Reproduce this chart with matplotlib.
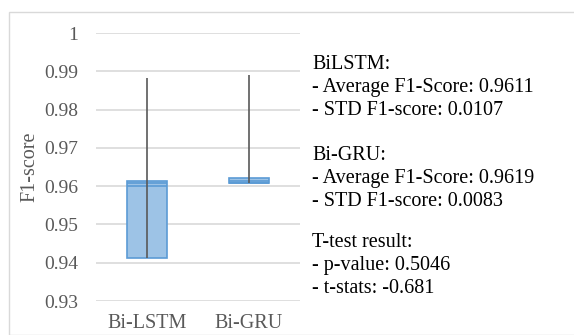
import matplotlib.pyplot as plt
from matplotlib.patches import Rectangle

models = ["Bi-LSTM", "Bi-GRU"]
f1_min = [0.9413, 0.9607]
f1_q1 = [0.9413, 0.9607]
f1_q3 = [0.9613, 0.9621]
f1_max = [0.9883, 0.9890]
f1_median = [0.9601, 0.9607]
f1_mean = [0.9608, 0.9614]
yticks = [0.93, 0.94, 0.95, 0.96, 0.97, 0.98, 0.99, 1]
ytick_labels = ["0.93", "0.94", "0.95", "0.96", "0.97", "0.98", "0.99", "1"]

stats_text = [
    "BiLSTM:\n- Average F1-Score: 0.9611\n- STD F1-score: 0.0107",
    "Bi-GRU:\n- Average F1-Score: 0.9619\n- STD F1-score: 0.0083",
    "T-test result:\n- p-value: 0.5046\n- t-stats: -0.681",
]

plt.rcParams['font.family'] = ['Liberation Serif', 'DejaVu Serif']

W, H = 574, 335
fig = plt.figure(figsize=(W / 100, H / 100), dpi=100)

# outer chart frame
fig.patches.append(Rectangle((9 / W, 0), 1, 1 - 12 / H, transform=fig.transFigure,
                             fill=False, edgecolor='#d9d9d9', linewidth=1))

ax = fig.add_axes([96 / W, 1 - 301 / H, 204 / W, 268 / H])
x = list(range(len(models)))
box_w = 0.4

heights = [q3 - q1 for q1, q3 in zip(f1_q1, f1_q3)]
ax.bar(x, heights, bottom=f1_q1, width=box_w, color='#9dc3e6',
       edgecolor='#5b9bd5', linewidth=1.2, zorder=2)
ax.hlines(f1_median, [i - box_w / 2 for i in x], [i + box_w / 2 for i in x],
          color='#5b9bd5', linewidth=1.2, zorder=3)
ax.hlines(f1_mean, [i - box_w / 2 for i in x], [i + box_w / 2 for i in x],
          color='#5b9bd5', linewidth=1.2, zorder=3)
ax.vlines(x, f1_min, f1_max, color='#595959', linewidth=1.2, zorder=4)

ax.set_xlim(-0.5, 1.5)
ax.set_ylim(0.93, 1.0)
ax.set_yticks(yticks)
ax.set_yticklabels(ytick_labels)
ax.set_xticks(x)
ax.set_xticklabels(models)
ax.tick_params(length=0, labelsize=14, labelcolor='#595959')
ax.tick_params(axis='x', labelsize=14.5, pad=9)
ax.tick_params(axis='y', pad=13)
ax.grid(axis='y', color='#d9d9d9', linewidth=1.2, zorder=0)
ax.set_axisbelow(True)
for s in ax.spines.values():
    s.set_visible(False)
ax.set_ylabel("F1-score", fontsize=14.5, color='#595959', labelpad=3)

# baseline of the last line of each block
for txt, ybase in zip(stats_text, [115, 206, 293]):
    fig.text(312 / W, 1 - ybase / H, txt, fontsize=14.5, va='baseline', ha='left',
             color='black', linespacing=1.3)

fig.savefig("out.png", dpi=100)
